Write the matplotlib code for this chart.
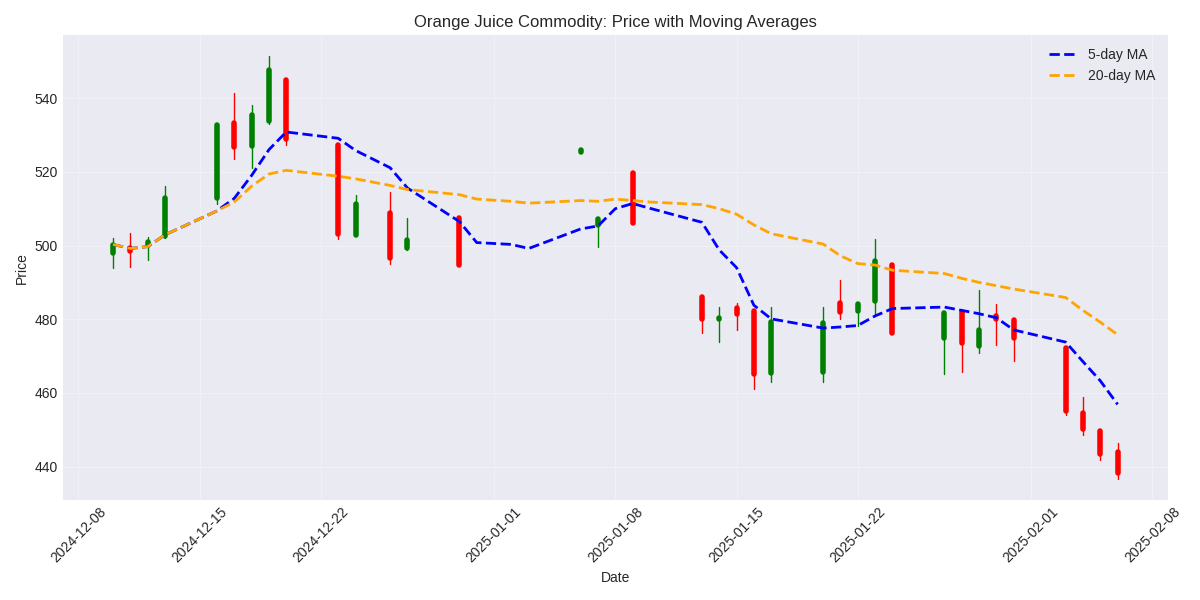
import pandas as pd
import matplotlib.pyplot as plt
import matplotlib.dates as mdates


# OHLC candles (days that have a drawn candle)
candle_dates = pd.to_datetime([
    "2024-12-10", "2024-12-11", "2024-12-12", "2024-12-13", "2024-12-16",
    "2024-12-17", "2024-12-18", "2024-12-19", "2024-12-20", "2024-12-23",
    "2024-12-24", "2024-12-26", "2024-12-27", "2024-12-30", "2025-01-06",
    "2025-01-07", "2025-01-09", "2025-01-13", "2025-01-14", "2025-01-15",
    "2025-01-16", "2025-01-17", "2025-01-20", "2025-01-21", "2025-01-22",
    "2025-01-23", "2025-01-24", "2025-01-27", "2025-01-28", "2025-01-29",
    "2025-01-30", "2025-01-31", "2025-02-03", "2025-02-04", "2025-02-05",
    "2025-02-06",
])
opens = [498.0, 499.4, 500.2, 502.6, 513.0, 533.2, 527.0, 533.7, 544.8, 527.3,
         502.8, 508.9, 499.3, 507.4, 525.3, 505.7, 519.8, 486.0, 480.0, 483.0,
         482.3, 465.5, 465.7, 484.5, 482.3, 484.9, 494.8, 474.8, 482.1, 472.7,
         480.8, 479.8, 472.1, 454.5, 449.8, 443.9]
highs = [502.0, 503.3, 502.4, 516.1, 532.8, 541.4, 538.2, 551.3, 545.0, 527.5,
         513.8, 514.4, 507.6, 507.6, 526.0, 507.1, 520.0, 486.2, 483.3, 484.4,
         482.5, 483.3, 483.3, 490.6, 484.4, 501.8, 495.0, 481.8, 482.3, 487.9,
         484.2, 480.0, 472.3, 458.8, 450.0, 446.5]
lows = [493.8, 494.3, 496.2, 502.0, 511.2, 523.6, 521.1, 533.0, 527.4, 501.8,
        502.5, 494.9, 498.8, 494.5, 525.3, 499.7, 505.9, 476.3, 473.8, 477.1,
        461.0, 462.9, 462.9, 480.1, 478.1, 481.5, 476.0, 465.1, 465.6, 470.8,
        472.9, 468.8, 454.0, 448.6, 441.9, 436.7]
closes = [500.1, 498.4, 501.0, 513.0, 532.8, 526.8, 535.3, 547.6, 529.0, 503.1,
          511.2, 496.7, 501.6, 494.8, 526.0, 507.1, 506.1, 480.0, 480.4, 481.4,
          465.2, 479.2, 478.9, 482.1, 484.2, 495.9, 476.4, 481.6, 473.5, 477.2,
          480.2, 475.0, 455.0, 450.3, 443.4, 438.2]

# moving averages (all trading days)
ma_dates = pd.to_datetime([
    "2024-12-10", "2024-12-11", "2024-12-12", "2024-12-13", "2024-12-16",
    "2024-12-17", "2024-12-18", "2024-12-19", "2024-12-20", "2024-12-23",
    "2024-12-24", "2024-12-26", "2024-12-27", "2024-12-30", "2024-12-31",
    "2025-01-02", "2025-01-03", "2025-01-06", "2025-01-07", "2025-01-08",
    "2025-01-09", "2025-01-10", "2025-01-13", "2025-01-14", "2025-01-15",
    "2025-01-16", "2025-01-17", "2025-01-20", "2025-01-21", "2025-01-22",
    "2025-01-23", "2025-01-24", "2025-01-27", "2025-01-28", "2025-01-29",
    "2025-01-30", "2025-01-31", "2025-02-03", "2025-02-04", "2025-02-05",
    "2025-02-06",
])
ma5 = [500.3, 499.2, 499.7, 502.9, 509.4, 512.8, 519.0, 526.0, 530.8, 529.1,
       525.8, 521.1, 515.6, 506.5, 500.8, 500.3, 499.2, 504.5, 505.3, 510.0,
       511.4, 510.1, 506.3, 498.8, 494.0, 483.8, 480.1, 477.6, 477.9, 478.3,
       480.9, 482.9, 483.3, 482.4, 481.5, 480.4, 477.1, 473.8, 468.5, 463.3,
       456.9]
ma20 = [500.3, 499.2, 499.7, 502.9, 509.4, 511.8, 516.1, 519.4, 520.4, 518.8,
        518.1, 516.3, 515.2, 513.8, 512.6, 512.0, 511.5, 512.2, 512.0, 512.6,
        512.2, 511.8, 511.1, 510.0, 508.5, 505.6, 503.2, 500.4, 497.2, 495.1,
        494.7, 493.3, 492.4, 491.1, 490.0, 489.1, 488.2, 485.9, 482.4, 479.2,
        475.8]

plt.style.use("seaborn-v0_8-darkgrid")
fig, ax = plt.subplots(figsize=(12, 6), dpi=100)

for d, o, h, l, c in zip(candle_dates, opens, highs, lows, closes):
    color = "green" if c >= o else "red"
    ax.plot([d, d], [l, h], color=color, linewidth=1)
    ax.plot([d, d], [o, c], color=color, linewidth=4)

ax.plot(ma_dates, ma5, linestyle="--", color="blue", linewidth=2, label="5-day MA")
ax.plot(ma_dates, ma20, linestyle="--", color="orange", linewidth=2, label="20-day MA")

ax.set_title("Orange Juice Commodity: Price with Moving Averages")
ax.set_xlabel("Date")
ax.set_ylabel("Price")
ax.xaxis.set_major_formatter(mdates.DateFormatter("%Y-%m-%d"))
plt.setp(ax.get_xticklabels(), rotation=45)
ax.grid(True, alpha=0.3)
ax.legend(loc="upper right")

plt.tight_layout()
fig.savefig("out.png", dpi=100)
